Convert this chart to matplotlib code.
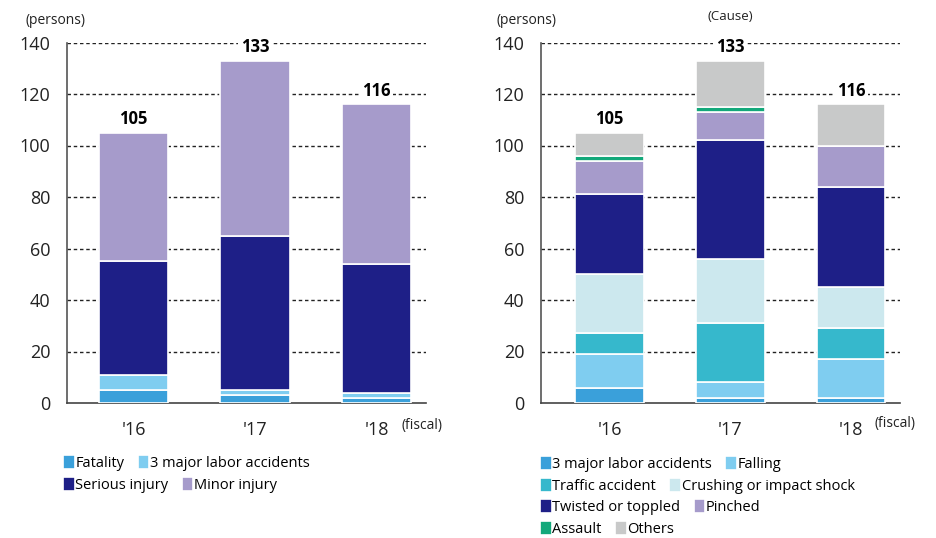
import numpy as np
import matplotlib
matplotlib.use("Agg")
import matplotlib.pyplot as plt

plt.rcParams['font.family'] = ['Open Sans', 'DejaVu Sans']

years = ["'16", "'17", "'18"]
totals = [105, 133, 116]

# left chart: by severity
sev_names = ["Fatality", "3 major labor accidents", "Serious injury", "Minor injury"]
fatality = [5, 3, 2]
major3 = [6, 2, 2]
serious = [44, 60, 50]
minor = [50, 68, 62]
sev_colors = ["#3aa0da", "#7fcdf0", "#1e1f87", "#a69bcb"]

# right chart: by cause
cause_names = ["3 major labor accidents", "Falling", "Traffic accident",
               "Crushing or impact shock", "Twisted or toppled", "Pinched",
               "Assault", "Others"]
c_major3 = [6, 2, 2]
c_falling = [13, 6, 15]
c_traffic = [8, 23, 12]
c_crushing = [23, 25, 16]
c_twisted = [31, 46, 39]
c_pinched = [13, 11, 16]
c_assault = [2, 2, 0]
c_others = [9, 18, 16]
cause_colors = ["#3aa0da", "#7fcdf0", "#36b8cc", "#cce8ee",
                "#1e1f87", "#a69bcb", "#13a87a", "#c8c9c9"]

fig = plt.figure(figsize=(9.37, 5.38), dpi=100)
ax1 = fig.add_axes([67/937, 1-403/538, (426-67)/937, (403-42.5)/538])
ax2 = fig.add_axes([541/937, 1-403/538, (900-541)/937, (403-42.5)/538])

x = np.arange(len(years))


def stack(ax, series, colors, names, width):
    bottom = np.zeros(len(years))
    handles = []
    for vals, col, nm in zip(series, colors, names):
        b = ax.bar(x, vals, width, bottom=bottom, color=col, edgecolor='white',
                   linewidth=1.2, label=nm, zorder=3)
        handles.append(b)
        bottom += np.array(vals)
    return handles


def style(ax, xlim):
    ax.set_xlim(*xlim)
    ax.set_ylim(0, 140)
    ax.set_yticks(range(0, 141, 20))
    ax.set_xticks(x)
    ax.set_xticklabels(years)
    for v in range(20, 141, 20):
        ax.axhline(v, color='#222222', lw=1.0, ls=(0, (2.5, 2)), zorder=1)
    for s in ['top', 'right']:
        ax.spines[s].set_visible(False)
    ax.spines['left'].set_color('#555555')
    ax.spines['bottom'].set_color('#444444')
    ax.spines['left'].set_linewidth(1.2)
    ax.spines['bottom'].set_linewidth(1.2)
    ax.tick_params(axis='y', length=0, pad=12, labelsize=13, colors='#222222')
    ax.tick_params(axis='x', length=0, pad=13, labelsize=13, colors='#222222')
    for i, t in enumerate(totals):
        ax.annotate(str(t), (x[i], t), xytext=(0, 3), textcoords='offset points',
                    ha='center', va='bottom', fontsize=12, fontweight='bold',
                    zorder=5, bbox=dict(boxstyle='square,pad=0.15', fc='white', ec='none'))


h1 = stack(ax1, [fatality, major3, serious, minor], sev_colors, sev_names, 0.568)
style(ax1, (-0.547, 2.407))
h2 = stack(ax2, [c_major3, c_falling, c_traffic, c_crushing, c_twisted,
                 c_pinched, c_assault, c_others], cause_colors, cause_names, 0.57)
style(ax2, (-0.567, 2.406))

fig.text(25/937, 1-21/538, "(persons)", fontsize=10, va='center', ha='left', color='#222222')
fig.text(497/937, 1-21/538, "(persons)", fontsize=10, va='center', ha='left', color='#222222')
fig.text(730/937, 1-17/538, "(Cause)", fontsize=9.5, va='center', ha='center', color='#222222')
fig.text(422/937, 1-426/538, "(fiscal)", fontsize=10, va='center', ha='center', color='#222222')
fig.text(895/937, 1-424/538, "(fiscal)", fontsize=10, va='center', ha='center', color='#222222')


def legend_row(handles, xpix, ypix):
    fig.legend(handles=handles, loc='center left', bbox_to_anchor=(xpix/937, 1-ypix/538),
               ncol=len(handles), frameon=False, fontsize=10.5, handlelength=0.8,
               handleheight=1.1, handletextpad=0.05, columnspacing=0.9,
               borderpad=0, borderaxespad=0)


legend_row(h1[0:2], 63, 463)
legend_row(h1[2:4], 63, 485)
legend_row(h2[0:2], 540, 464)
legend_row(h2[2:4], 540, 486)
legend_row(h2[4:6], 540, 507)
legend_row(h2[6:8], 540, 529)

fig.savefig("out.png", dpi=100)
